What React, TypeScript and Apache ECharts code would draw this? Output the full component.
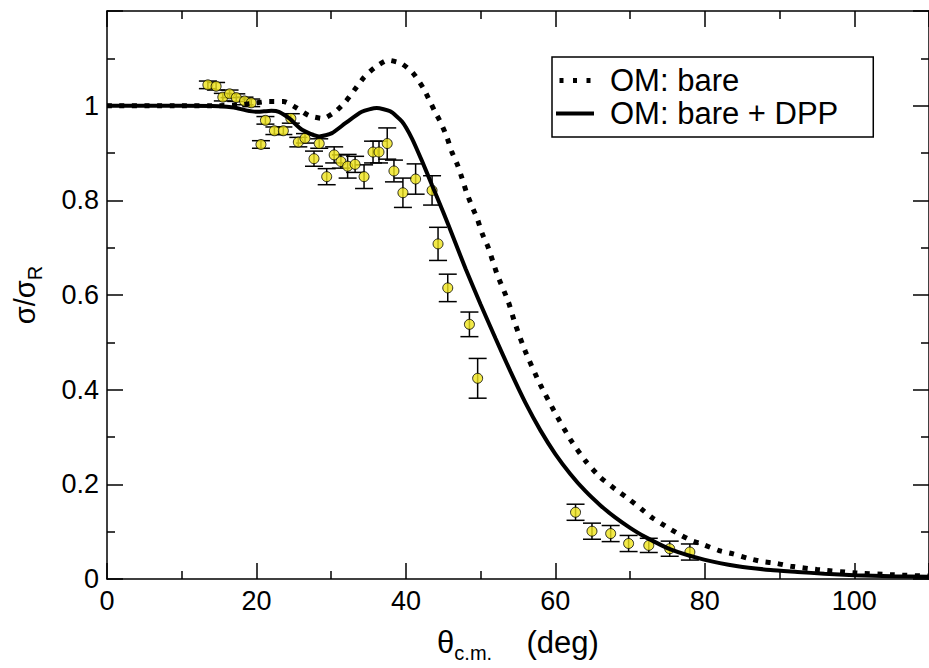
import React, { useEffect, useRef } from "react";
import * as echarts from "echarts";

// Experimental data (theta c.m., sigma/sigma_R, error)
const expTheta = [13.5, 14.6, 15.5, 16.4, 17.3, 18.4, 19.3, 20.6, 21.2, 22.4, 23.6, 24.6, 25.6, 26.5, 27.7, 28.4, 29.4, 30.4, 31.3, 32.2, 33.2, 34.4, 35.6, 36.4, 37.5, 38.4, 39.6, 41.3, 43.5, 44.3, 45.6, 48.5, 49.6, 62.7, 64.9, 67.4, 69.8, 72.5, 75.3, 78.0];
const expVal = [1.044, 1.041, 1.018, 1.025, 1.017, 1.010, 1.006, 0.918, 0.969, 0.947, 0.947, 0.973, 0.923, 0.931, 0.888, 0.920, 0.850, 0.896, 0.882, 0.872, 0.876, 0.850, 0.902, 0.902, 0.920, 0.862, 0.816, 0.845, 0.821, 0.708, 0.615, 0.538, 0.424, 0.141, 0.101, 0.096, 0.075, 0.071, 0.064, 0.057];
const expErr = [0.008, 0.008, 0.008, 0.008, 0.008, 0.008, 0.008, 0.008, 0.008, 0.008, 0.008, 0.010, 0.010, 0.010, 0.016, 0.010, 0.017, 0.017, 0.014, 0.025, 0.017, 0.025, 0.023, 0.023, 0.033, 0.023, 0.031, 0.032, 0.031, 0.035, 0.029, 0.026, 0.042, 0.017, 0.017, 0.017, 0.017, 0.015, 0.016, 0.017];

// OM: bare (dotted)
const bareTheta = [0, 10, 15, 18, 20, 21.7, 23.6, 25.4, 27, 28.9, 30.6, 32, 33.2, 34.4, 35.8, 37.6, 39.4, 40.9, 42.4, 43.8, 44.7, 45.5, 46.1, 46.9, 47.5, 48.1, 48.8, 49.6, 50.2, 51, 52.2, 53.7, 54.6, 56, 58, 60, 62, 64, 66, 68, 69.9, 71.5, 73, 74.7, 76.4, 78.1, 79.9, 81.9, 83.8, 85.7, 87.6, 89.6, 91.5, 95, 100, 105, 110];
const bareVal = [1, 1, 1, 1.002, 1.006, 1.009, 1.009, 0.995, 0.979, 0.973, 0.988, 1.010, 1.035, 1.060, 1.080, 1.096, 1.089, 1.070, 1.035, 0.990, 0.963, 0.933, 0.904, 0.875, 0.847, 0.817, 0.789, 0.759, 0.730, 0.701, 0.644, 0.586, 0.540, 0.480, 0.410, 0.350, 0.295, 0.250, 0.215, 0.190, 0.168, 0.148, 0.129, 0.112, 0.096, 0.082, 0.072, 0.060, 0.053, 0.044, 0.037, 0.033, 0.027, 0.020, 0.013, 0.009, 0.006];

// OM: bare + DPP (solid)
const dppTheta = [0, 5, 10, 15, 17, 18.6, 19.9, 21, 22, 23, 24.4, 26.1, 28.4, 30.1, 31.9, 34.1, 36.1, 37.9, 39.5, 40.8, 42.1, 43.5, 45, 46.5, 48, 50, 52, 54, 56, 58, 60, 62, 64, 66, 68, 70, 72, 75.5, 79.9, 84.4, 88.8, 92.4, 96, 100, 105, 110];
const dppVal = [1, 1, 1, 0.999, 0.996, 0.990, 0.987, 0.988, 0.989, 0.987, 0.973, 0.949, 0.935, 0.942, 0.963, 0.987, 0.995, 0.988, 0.966, 0.931, 0.885, 0.832, 0.775, 0.715, 0.655, 0.580, 0.508, 0.438, 0.372, 0.314, 0.264, 0.222, 0.186, 0.156, 0.130, 0.108, 0.089, 0.062, 0.041, 0.027, 0.019, 0.015, 0.011, 0.008, 0.006, 0.005];

const legendNames = ["OM: bare", "OM: bare + DPP"];

const FONT = "Liberation Sans, Arial, Helvetica, sans-serif";

export default function App() {
  const ref = useRef<HTMLDivElement>(null);
  useEffect(() => {
    if (!ref.current) return;
    const chart = echarts.init(ref.current, null, { renderer: "svg" });
    const expData = expTheta.map((t, i) => [t, expVal[i], expErr[i]]);
    const axisCommon = {
      axisLine: { show: true, onZero: false, lineStyle: { color: "#000", width: 1.5 } },
      axisTick: { show: true, inside: true, length: 16, lineStyle: { color: "#000", width: 1.5 } },
      minorTick: { show: true, splitNumber: 2, length: 8, lineStyle: { color: "#000", width: 1.5 } },
      splitLine: { show: false },
      minorSplitLine: { show: false },
    };
    const option: any = {
      animation: false,
      backgroundColor: "#fff",
      grid: { left: 107, top: 11, width: 825, height: 577, containLabel: false },
      legend: {
        data: [
          { name: legendNames[0], icon: "path://M0 0h4v5H0z M13.5 0h4v5h-4z M27 0h4v5h-4z" },
          { name: legendNames[1], icon: "path://M0 0.5h38v4H0z" },
        ],
        orient: "vertical",
        left: 552,
        top: 57,
        backgroundColor: "#fff",
        borderColor: "#000",
        borderWidth: 1.5,
        borderRadius: 0,
        padding: [8, 35, 8, 4],
        itemWidth: 38,
        itemHeight: 5,
        itemGap: 2,
        textStyle: { fontFamily: FONT, fontSize: 31, color: "#000", padding: [0, 0, 0, 11], lineHeight: 30 },
      },
      xAxis: [
        {
          type: "value",
          min: 0,
          max: 110,
          interval: 20,
          position: "bottom",
          ...axisCommon,
          axisLabel: {
            fontFamily: FONT,
            fontSize: 27,
            color: "#000",
            margin: 8,
            showMaxLabel: false,
            formatter: (v: number) => (v > 100 ? "" : String(v)),
          },
          name: "{t|θ}{s|c.m.}{t|    (deg)}",
          nameLocation: "middle",
          nameGap: 42,
          nameTextStyle: {
            fontFamily: FONT,
            color: "#000",
            rich: {
              t: { fontFamily: FONT, fontSize: 31, color: "#000" },
              s: { fontFamily: FONT, fontSize: 20, color: "#000", padding: [22, 0, 0, 0] },
            },
          },
        },
        {
          type: "value",
          min: 0,
          max: 110,
          interval: 20,
          position: "top",
          ...axisCommon,
          axisLabel: { show: false },
        },
      ],
      yAxis: [
        {
          type: "value",
          min: 0,
          max: 1.2,
          interval: 0.2,
          position: "left",
          ...axisCommon,
          axisLabel: {
            fontFamily: FONT,
            fontSize: 27,
            color: "#000",
            margin: 8,
            formatter: (v: number) => {
              if (v > 1.1) return "";
              if (Math.abs(v) < 1e-9) return "0";
              if (Math.abs(v - 1) < 1e-9) return "1";
              return v.toFixed(1);
            },
          },
          name: "{t|σ/σ}{s|R}",
          nameLocation: "middle",
          nameRotate: 90,
          nameGap: 62,
          nameTextStyle: {
            fontFamily: FONT,
            color: "#000",
            rich: {
              t: { fontFamily: FONT, fontSize: 29, color: "#000" },
              s: { fontFamily: FONT, fontSize: 20, color: "#000", padding: [20, 0, 0, 0] },
            },
          },
        },
        {
          type: "value",
          min: 0,
          max: 1.2,
          interval: 0.2,
          position: "right",
          ...axisCommon,
          axisLabel: { show: false },
        },
      ],
      series: [
        {
          name: "errors",
          type: "custom",
          xAxisIndex: 0,
          yAxisIndex: 0,
          z: 2,
          data: expData,
          renderItem: (params: any, api: any) => {
            const x = api.value(0);
            const y = api.value(1);
            const e = api.value(2);
            const top = api.coord([x, y + e]);
            const bot = api.coord([x, y - e]);
            const hw = 9;
            const st = { stroke: "#000", lineWidth: 1.5 };
            return {
              type: "group",
              children: [
                { type: "line", shape: { x1: top[0], y1: top[1], x2: bot[0], y2: bot[1] }, style: st },
                { type: "line", shape: { x1: top[0] - hw, y1: top[1], x2: top[0] + hw, y2: top[1] }, style: st },
                { type: "line", shape: { x1: bot[0] - hw, y1: bot[1], x2: bot[0] + hw, y2: bot[1] }, style: st },
              ],
            };
          },
        },
        {
          name: "data",
          type: "scatter",
          z: 3,
          symbol: "circle",
          symbolSize: 10,
          itemStyle: { color: "#efe31c", borderColor: "#000", borderWidth: 1 },
          data: expData.map((d) => [d[0], d[1]]),
        },
        {
          name: legendNames[0],
          type: "line",
          z: 4,
          symbol: "none",
          smooth: 0.2,
          color: "#000",
          lineStyle: { color: "#000", width: 5, type: [5, 7.5], cap: "butt" },
          data: bareTheta.map((t, i) => [t, bareVal[i]]),
        },
        {
          name: legendNames[1],
          type: "line",
          z: 5,
          symbol: "none",
          smooth: 0.2,
          color: "#000",
          lineStyle: { color: "#000", width: 4, type: "solid" },
          data: dppTheta.map((t, i) => [t, dppVal[i]]),
        },
      ],
    };
    chart.setOption(option);
    return () => chart.dispose();
  }, []);
  return (
    <div
      ref={ref}
      style={{ position: "absolute", left: 0, top: 0, width: 929, height: 668, background: "#fff" }}
    />
  );
}
